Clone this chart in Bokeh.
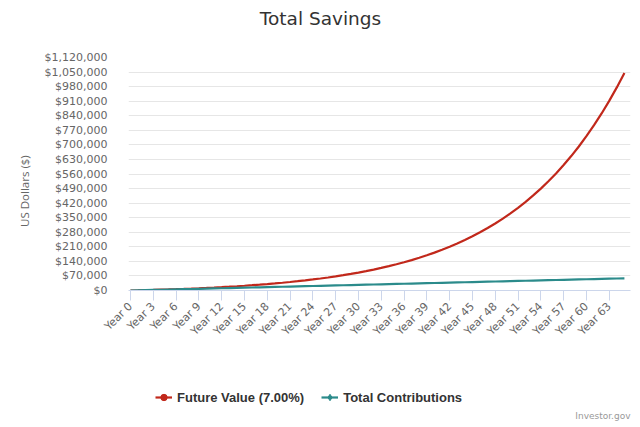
import math
from bokeh.plotting import figure
from bokeh.layouts import column, row
from bokeh.models import (ColumnDataSource, FixedTicker, Label, Legend, LegendItem,
                          Range1d, NumeralTickFormatter)
from bokeh.embed import file_html
from bokeh.resources import INLINE

years = list(range(0, 66))
future_value = [0, 900, 1870, 2900, 4010, 5200, 6470, 7830, 9290, 10850,
                12520, 14310, 16230, 18290, 20500, 22860, 25390, 28100, 30990, 34080,
                37380, 40910, 44690, 48730, 53060, 57690, 62640, 67940, 73600, 79660,
                86150, 93100, 100530, 108480, 116980, 126000, 135800, 146200, 157300, 169300,
                182000, 195700, 210300, 225900, 242600, 260500, 279700, 300200, 322100, 345500,
                370600, 397500, 426200, 457000, 489900, 525100, 562700, 603000, 646200, 692300,
                741700, 794500, 851000, 911500, 976200, 1045500]
contributions = [0, 900, 1800, 2700, 3600, 4500, 5400, 6300, 7200, 8100,
                 9000, 9900, 10800, 11700, 12600, 13500, 14400, 15300, 16200, 17100,
                 18000, 18900, 19800, 20700, 21600, 22500, 23400, 24300, 25200, 26100,
                 27000, 27900, 28800, 29700, 30600, 31500, 32400, 33300, 34200, 35100,
                 36000, 36900, 37800, 38700, 39600, 40500, 41400, 42300, 43200, 44100,
                 45000, 45900, 46800, 47700, 48600, 49500, 50400, 51300, 52200, 53100,
                 54000, 54900, 55800, 56700, 57600, 58500]
tick_years = [0, 3, 6, 9, 12, 15, 18, 21, 24, 27, 30, 33, 36, 39, 42, 45, 48, 51, 54, 57, 60, 63]
tick_labels = {y: "Year %d" % y for y in tick_years}
y_ticks = [0, 70000, 140000, 210000, 280000, 350000, 420000, 490000, 560000, 630000,
           700000, 770000, 840000, 910000, 980000, 1050000, 1120000]

series_names = ["Future Value (7.00%)", "Total Contributions"]
colors = ["#c1281b", "#2b8b8b"]

FONT = "DejaVu Sans"


def strip(w, h):
    f = figure(width=w, height=h, output_backend="svg", toolbar_location=None,
               x_range=Range1d(0, w), y_range=Range1d(0, h),
               x_axis_type=None, y_axis_type=None,
               min_border_left=0, min_border_right=0, min_border_top=0, min_border_bottom=0)
    f.outline_line_color = None
    f.xgrid.visible = False
    f.ygrid.visible = False
    return f


# ---- top strip: title
top = strip(640, 45)
top.add_layout(Label(x=320, y=27, text="Total Savings", text_align="center",
                     text_baseline="middle", text_font=FONT, text_font_size="18.5px",
                     text_color="#333333"))

# ---- main chart
src = ColumnDataSource(dict(year=years, fv=future_value, tc=contributions))
p = figure(width=604, height=307, output_backend="svg", toolbar_location=None,
           x_range=Range1d(-0.26, 65.8), y_range=Range1d(0, 1120000),
           min_border_left=92, min_border_right=10, min_border_top=12, min_border_bottom=62)
p.outline_line_color = None
p.xgrid.visible = False
p.ygrid.grid_line_color = "#e6e6e6"
p.ygrid.grid_line_width = 1

yax = p.yaxis[0]
yax.ticker = FixedTicker(ticks=y_ticks)
yax.formatter = NumeralTickFormatter(format="$0,0")
yax.axis_line_color = None
yax.major_tick_line_color = None
yax.minor_tick_line_color = None
yax.major_label_text_font = FONT
yax.major_label_text_font_size = "11px"
yax.major_label_text_color = "#666666"
yax.major_label_standoff = 15

xax = p.xaxis[0]
xax.ticker = FixedTicker(ticks=tick_years)
xax.major_label_overrides = tick_labels
xax.major_label_orientation = math.pi / 4
xax.major_tick_out = 10
xax.major_tick_in = 0
xax.major_tick_line_color = "#ccd6eb"
xax.minor_tick_line_color = None
xax.axis_line_color = "#ccd6eb"
xax.major_label_text_font = FONT
xax.major_label_text_font_size = "11px"
xax.major_label_text_color = "#666666"
xax.major_label_standoff = 4

p.line("year", "fv", source=src, line_color=colors[0], line_width=2.2)
p.line("year", "tc", source=src, line_color=colors[1], line_width=2.2)

# ---- left strip: y-axis title
left = strip(36, 307)
left.add_layout(Label(x=24, y=131, text="US Dollars ($)", angle=math.pi / 2,
                      text_align="center", text_baseline="middle", text_font="Open Sans",
                      text_font_size="11.5px", text_color="#666666"))

# ---- bottom strip: legend + credits
bot = strip(640, 75)
off = ColumnDataSource(dict(x=[-500, -490], y=[-500, -500]))
l_fv = bot.line("x", "y", source=off, line_color=colors[0], line_width=2.2)
m_fv = bot.scatter("x", "y", source=off, marker="circle", size=8,
                   fill_color=colors[0], line_color=colors[0])
l_tc = bot.line("x", "y", source=off, line_color=colors[1], line_width=2.2)
m_tc = bot.scatter("x", "y", source=off, marker="diamond", size=10,
                   fill_color=colors[1], line_color=colors[1])
legend = Legend(items=[LegendItem(label=series_names[0], renderers=[l_fv, m_fv], index=0),
                       LegendItem(label=series_names[1], renderers=[l_tc, m_tc], index=0)],
                orientation="horizontal", location=(155, 22),
                glyph_width=17, glyph_height=16, label_standoff=5, spacing=17,
                padding=0, margin=0, border_line_color=None, background_fill_alpha=0,
                label_text_font="Liberation Sans", label_text_font_style="bold",
                label_text_font_size="13px", label_text_color="#333333")
bot.add_layout(legend)
bot.add_layout(Label(x=630, y=12, text="Investor.gov", text_align="right",
                     text_baseline="middle", text_font=FONT, text_font_size="9px",
                     text_color="#999999"))

layout = column(top, row(left, p), bot)
open("out.html", "w").write(file_html(layout, INLINE))
